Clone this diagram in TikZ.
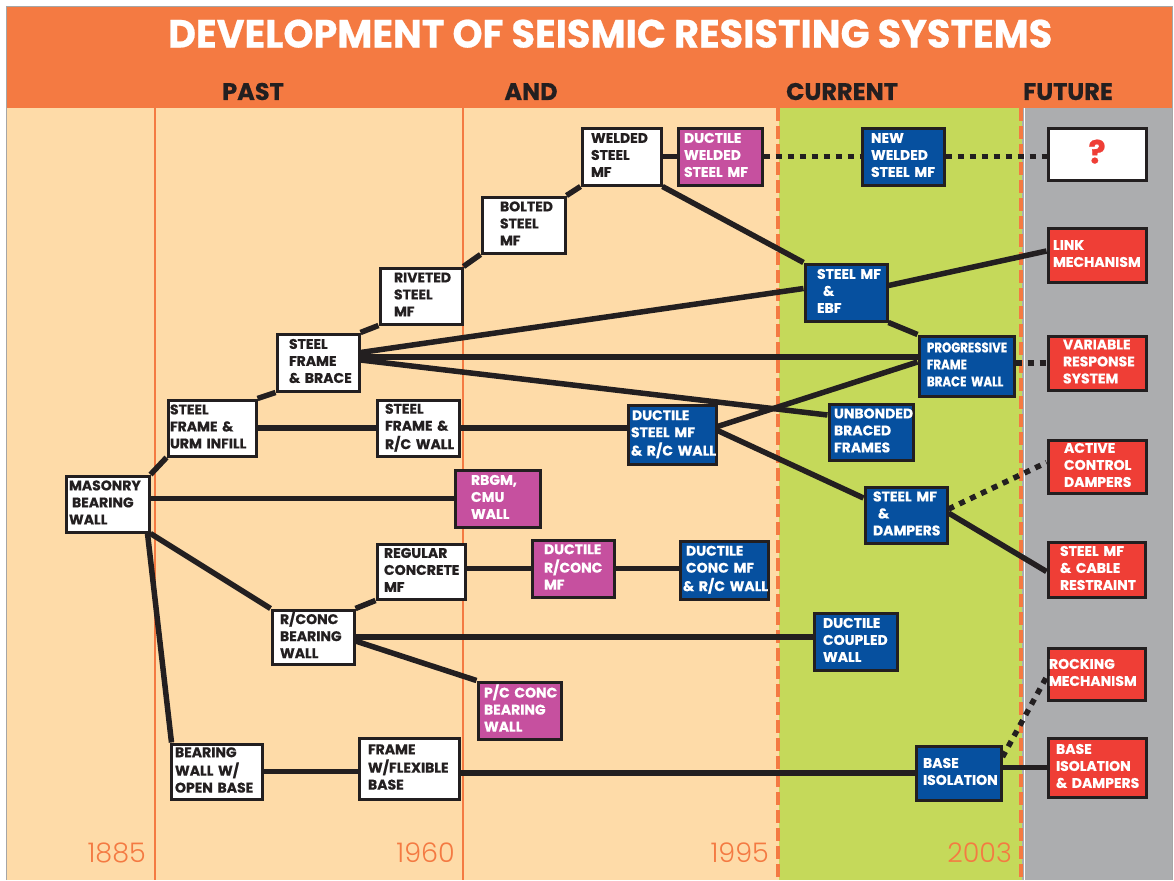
\documentclass[tikz,border=0pt]{standalone}
\usepackage{fontspec}
\usepackage{graphicx}
\newfontfamily\pop{Poppins}[BoldFeatures={FakeBold=0.6}]
\newfontfamily\popl{Poppins Light}
\newfontfamily\popc{Poppins}[FakeStretch=0.84,BoldFeatures={FakeBold=0.6}]
\definecolor{ink}{HTML}{231F20}
\definecolor{orgc}{HTML}{F47A42}
\definecolor{tanc}{HTML}{FEDBA8}
\definecolor{grnc}{HTML}{C5D95A}
\definecolor{gryc}{HTML}{ACADAF}
\definecolor{blu}{HTML}{06509F}
\definecolor{mag}{HTML}{C6509F}
\definecolor{redc}{HTML}{EF3E36}
\tikzset{
 bx/.style={draw=ink, line width=3pt, inner ysep=0pt, align=left, font=\pop\bfseries\fontsize{14}{17}\selectfont},
 wbox/.style={bx, fill=white, text=ink},
 bbox/.style={bx, fill=blu, text=white},
 mbox/.style={bx, fill=mag, text=white},
 rbox/.style={bx, fill=redc, text=white},
 conn/.style={draw=ink, line width=5.5pt},
 dotl/.style={draw=ink, line width=5.5pt, dash pattern=on 6pt off 6pt},
 hdr/.style={font=\pop\bfseries\fontsize{24}{24}\selectfont, text=ink, anchor=base, inner sep=0pt},
 yr/.style={font=\popl\fontsize{27}{27}\selectfont, text=orgc, anchor=base east, inner sep=0pt},
}
\newcommand\mkbox[8]{%
 \pgfmathsetmacro\bxw{#4-#2}\pgfmathsetmacro\bxh{#5-#3}%
 \pgfmathsetmacro\bxcx{(#2+#4)/2}\pgfmathsetmacro\bxcy{(#3+#5)/2}%
 \node[#6, minimum width=\bxw pt, minimum height=\bxh pt, text width=\bxw pt, inner xsep=0pt] (#1) at (\bxcx,\bxcy) {\hspace*{#7pt}\begin{tabular}[c]{@{}l@{}}#8\end{tabular}};}
\begin{document}
\begin{tikzpicture}[x=1pt,y=-1pt]
\useasboundingbox (0,0) rectangle (1174,880);
% backgrounds
\fill[white] (0,0) rectangle (1174,880);
\fill[tanc] (6,108) rectangle (779,880);
\fill[grnc] (779,108) rectangle (1022,880);
\fill[gryc] (1022,108) rectangle (1172,880);
\fill[orgc] (6,7) rectangle (1172,108);
\draw[gray!70, line width=1pt] (6,880) -- (6,7) -- (1172,7) -- (1172,880);
\draw[white, line width=1pt] (1024.5,108) -- (1024.5,880);
\draw[orgc, line width=2.5pt] (155,108) -- (155,880);
\draw[orgc, line width=2.5pt] (463,108) -- (463,880);
\draw[orgc, line width=4pt, dash pattern=on 13pt off 5pt] (778,108) -- (778,880);
\draw[orgc, line width=4pt, dash pattern=on 13pt off 5pt] (1021,108) -- (1021,880);
% titles
\node[anchor=south west, inner sep=0pt, text=white] (title) at (168,48) {\resizebox{884pt}{28pt}{\pop\bfseries DEVELOPMENT OF SEISMIC RESISTING SYSTEMS}};
\node[hdr] (hpast) at (253,100) {PAST};
\node[hdr] (hand) at (531,100) {AND};
\node[hdr] (hcur) at (842,100) {CURRENT};
\node[hdr] (hfut) at (1068,100) {FUTURE};
% years
\node[yr] (y1) at (146,862) {1885};
\node[yr] (y2) at (455,862) {1960};
\node[yr] (y3) at (769,862) {1995};
\node[yr] (y4) at (1012,862) {2003};
% boxes
\mkbox{mas}{66}{476}{149}{532}{wbox}{3}{MASONRY\\\hspace*{3pt}BEARING\\WALL}
\mkbox{urm}{168}{400}{256}{456}{wbox}{2}{STEEL\\FRAME \&\\URM INFILL}
\mkbox{brace}{277}{334}{359}{391}{wbox}{12}{STEEL\\FRAME\\\& BRACE}
\mkbox{riv}{380}{268}{462}{324}{wbox}{14}{RIVETED\\STEEL\\MF}
\mkbox{bolt}{482}{197}{565}{253}{wbox}{18}{BOLTED\\STEEL\\MF}
\mkbox{weld}{582}{128}{661}{185}{wbox}{9}{WELDED\\STEEL\\MF}
\mkbox{dws}{678}{128}{762}{185}{mbox}{6}{DUCTILE\\WELDED\\STEEL MF}
\mkbox{nws}{862}{128}{944}{185}{bbox}{9}{NEW\\WELDED\\STEEL MF}
\mkbox{q}{1048}{128}{1146}{180}{wbox, align=center}{0}{{\color{redc}\fontsize{32}{32}\selectfont ?}}
\mkbox{rcw}{377}{400}{459}{456}{wbox}{8}{STEEL\\FRAME \&\\R/C WALL}
\mkbox{dsm}{628}{405}{716}{464}{bbox}{3}{\hspace*{1pt}DUCTILE\\STEEL MF\\\& R/C WALL}
\mkbox{ebf}{805}{264}{887}{321}{bbox}{12}{STEEL MF\\\hspace*{6pt}\&\\EBF}
\mkbox{prog}{919}{336}{1014}{396}{bbox, font=\popc\bfseries\fontsize{14}{17}\selectfont}{8}{PROGRESSIVE\\FRAME\\BRACE WALL}
\mkbox{unb}{829}{404}{913}{460}{bbox}{5}{UNBONDED\\BRACED\\FRAMES}
\mkbox{dmp}{865}{487}{947}{543}{bbox}{8}{STEEL MF\\\hspace*{5pt}\&\\DAMPERS}
\mkbox{link}{1048}{228}{1146}{282}{rbox}{5}{LINK\\MECHANISM}
\mkbox{var}{1048}{336}{1146}{390}{rbox}{15}{VARIABLE\\RESPONSE\\SYSTEM}
\mkbox{act}{1048}{440}{1146}{493}{rbox}{16}{ACTIVE\\CONTROL\\DAMPERS}
\mkbox{cab}{1048}{542}{1145}{597}{rbox}{12}{STEEL MF\\\& CABLE\\RESTRAINT}
\mkbox{rbgm}{455}{470}{540}{527}{mbox}{16}{RBGM,\\CMU\\WALL}
\mkbox{rcm}{377}{544}{465}{599}{wbox}{7}{REGULAR\\CONCRETE\\MF}
\mkbox{drc}{532}{540}{614}{597}{mbox}{12}{DUCTILE\\R/CONC\\MF}
\mkbox{dcm}{680}{541}{768}{599}{bbox}{3}{\hspace*{3pt}DUCTILE\\\hspace*{3pt}CONC MF\\\& R/C WALL}
\mkbox{rcb}{272}{610}{354}{664}{wbox}{8}{R/CONC\\BEARING\\WALL}
\mkbox{dcw}{814}{613}{897}{670}{bbox}{9}{DUCTILE\\COUPLED\\WALL}
\mkbox{pcc}{478}{682}{561}{739}{mbox}{6}{P/C CONC\\BEARING\\WALL}
\mkbox{bwo}{171}{744}{262}{799}{wbox}{4}{BEARING\\WALL W/\\OPEN BASE}
\mkbox{ffb}{359}{738}{459}{799}{wbox}{9}{FRAME\\W/FLEXIBLE\\BASE}
\mkbox{bis}{916}{746}{1001}{800}{bbox}{7}{BASE\\ISOLATION}
\mkbox{roc}{1048}{648}{1145}{700}{rbox}{1}{ROCKING\\MECHANISM}
\mkbox{bid}{1048}{738}{1146}{797}{rbox}{8}{BASE\\ISOLATION\\\& DAMPERS}
% helper coordinates
\coordinate (bh) at ([yshift=5.5pt]brace.east);
% connectors
\draw[conn] (mas.north east) -- (urm.south west);
\draw[conn] (urm.north east) -- (brace.south west);
\draw[conn] (brace.north east) -- (riv.south west);
\draw[conn] (riv.north east) -- (bolt.south west);
\draw[conn] (bolt.north east) -- (weld.south west);
\draw[conn] (weld.east) -- (dws.west);
\draw[dotl] (dws.east) -- (dws.east -| nws.west);
\draw[dotl] (nws.east) -- (nws.east -| q.west);
\draw[conn] (weld.south east) -- (ebf.north west);
\draw[conn] ([yshift=7pt]ebf.east) -- ([yshift=4pt]link.west);
\draw[conn] (ebf.south east) -- (prog.north west);
\draw[conn] ([yshift=10pt]brace.east) -- ([yshift=4pt]ebf.west);
\draw[conn] (bh) -- (bh -| prog.west);
\draw[conn] ([yshift=2.5pt]brace.east) -- ([yshift=17pt]unb.west);
\draw[dotl] (var.west -| prog.east) -- (var.west);
\draw[conn] (urm.east) -- (urm.east -| rcw.west);
\draw[conn] (rcw.east) -- (rcw.east -| dsm.west);
\draw[conn] ([yshift=8pt]dsm.east) -- ([yshift=4pt]prog.west);
\draw[conn] ([yshift=4pt]dsm.east) -- ([yshift=17pt]dmp.west);
\draw[dotl] ([yshift=6pt]dmp.east) -- ([yshift=4pt]act.west);
\draw[conn] ([yshift=2pt]dmp.east) -- ([yshift=-2pt]cab.west);
\draw[conn] (rbgm.west -| mas.east) -- (rbgm.west);
\draw[conn] (mas.south east) -- (rcb.north west);
\draw[conn] ([xshift=-3pt]mas.south east) -- ([xshift=2pt]bwo.north west);
\draw[conn] (rcb.north east) -- (rcm.south west);
\draw[conn] (drc.west -| rcm.east) -- (drc.west);
\draw[conn] (drc.east) -- (drc.east -| dcm.west);
\draw[conn] (rcb.east) -- (rcb.east -| dcw.west);
\draw[conn] ([yshift=-4pt]rcb.east) -- (pcc.north west);
\draw[conn] (bwo.east) -- (bwo.east -| ffb.west);
\draw[conn] (bis.west -| ffb.east) -- (bis.west);
\draw[conn] (bid.west -| bis.east) -- (bid.west);
\draw[dotl] ([yshift=16pt]bis.east) -- ([yshift=-3pt]roc.west);
\end{tikzpicture}
\end{document}
